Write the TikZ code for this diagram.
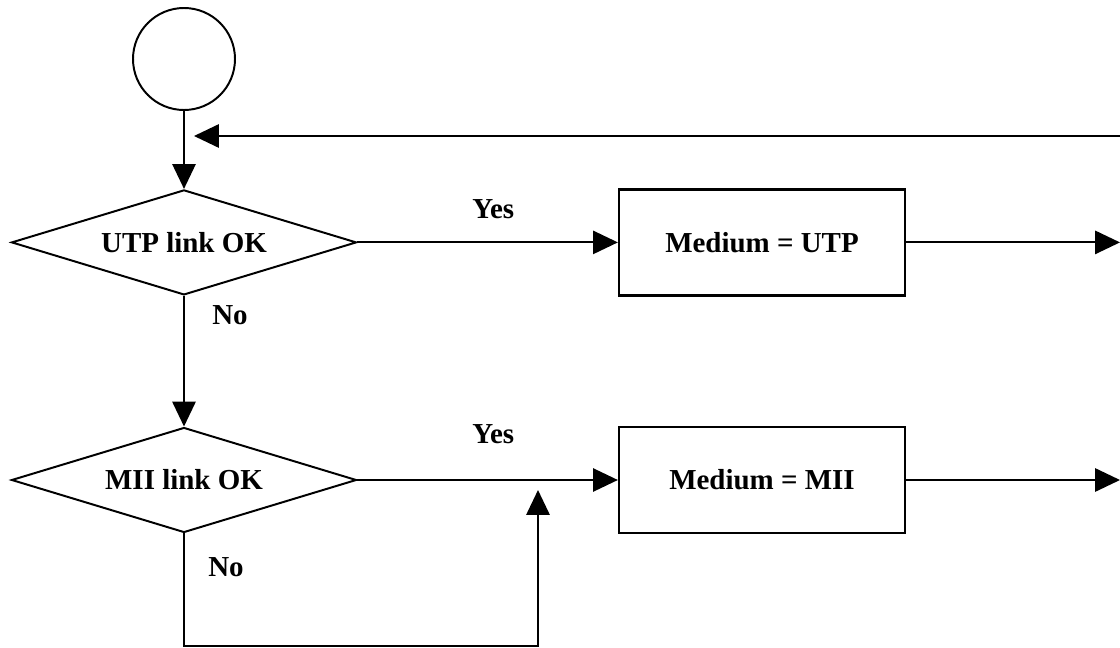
\documentclass[tikz,border=0pt]{standalone}
\usepackage{fontspec}
\setmainfont{Liberation Serif}
\usetikzlibrary{arrows.meta,shapes.geometric}
\tikzset{
	flow/.style={-{Triangle[length=0.62cm,width=0.58cm]}},
	bigtext/.style={font=\bfseries\fontsize{20.6}{24}\selectfont},
	linktest/.style={diamond, draw, aspect=3.3, inner sep=0pt, minimum width=8.625cm, minimum height=2.625cm, bigtext},
	medium/.style={rectangle, draw, line width=1.6pt, minimum width=7.15cm, minimum height=2.65cm, bigtext},
	answer/.style={bigtext, inner sep=0pt}
}

\begin{document}
\begin{tikzpicture}[line width=1.4pt]
		%%%%% START %%%%%
		\useasboundingbox (0, 0) rectangle (28, -16.2);
		
		\node[circle, draw, minimum size=2.55cm, inner sep=0pt] (start) at (4.6, -1.475) {};
		
		\node[linktest] (utp) at (4.6, -6.06) {UTP link OK};
		\node[medium] (medutp) at (19.05, -6.06) {Medium = UTP};
		
		\node[linktest] (mii) at (4.6, -12.0) {MII link OK};
		\node[medium] (medmii) at (19.05, -12.0) {Medium = MII};
		
		\node[answer] (yesutp) at (12.33, -5.22) {Yes};
		\node[answer] (noutp) at (5.75, -7.875) {No};
		\node[answer] (yesmii) at (12.33, -10.85) {Yes};
		\node[answer] (nomii) at (5.65, -14.175) {No};
		
		\coordinate (retin) at (28, -3.4);
		\coordinate (retend) at (4.85, -3.4);
		\coordinate (oututp) at (28, -6.06);
		\coordinate (outmii) at (28, -12.0);
		\coordinate (loopbase) at (4.6, -16.15);
		\coordinate (loopend) at (13.45, -12.25);
		
		\draw[flow] (start) -- (utp);
		\draw[flow] (retin) -- (retend);
		\draw[flow] (utp) -- (medutp);
		\draw[flow] (medutp) -- (oututp);
		\draw[flow] (utp) -- (mii);
		\draw[flow] (mii) -- (medmii);
		\draw[flow] (medmii) -- (outmii);
		\draw[flow] (mii.south) -- (loopbase) -| (loopend);
		
		%%%%% END %%%%%
\end{tikzpicture}
\end{document}
